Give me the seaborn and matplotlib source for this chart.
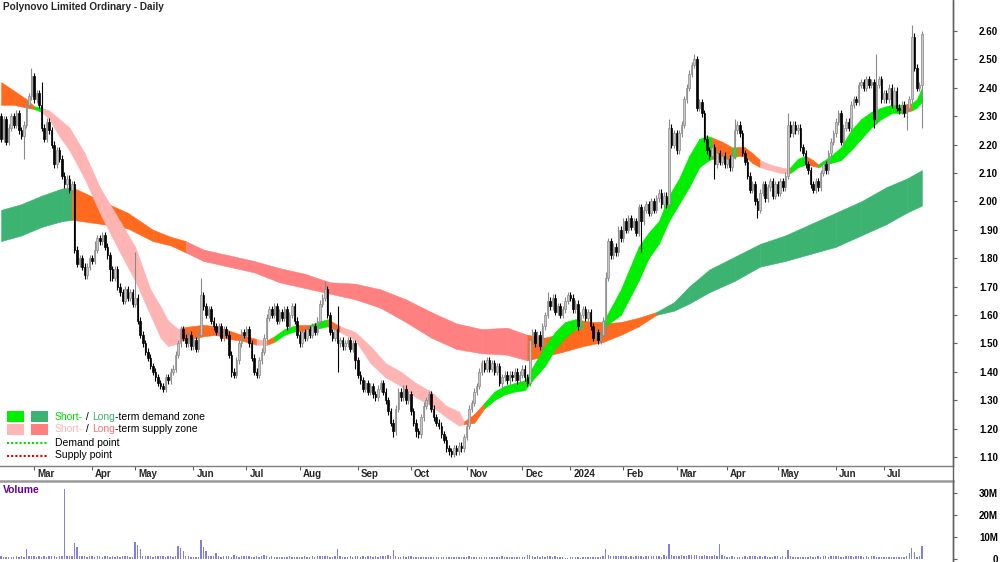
import numpy as np
import pandas as pd
import matplotlib
matplotlib.use("Agg")
import matplotlib.pyplot as plt
import seaborn as sns
from matplotlib.patches import Rectangle
from matplotlib.lines import Line2D
from matplotlib.transforms import ScaledTranslation

# ---- data ----
title = "Polynovo Limited Ordinary - Daily"
first_day, last_day = "2023-02-10", "2024-07-22"
asx_holidays = ["2023-04-07", "2023-04-10", "2023-04-25", "2023-06-12", "2023-12-25",
                "2023-12-26", "2024-01-01", "2024-01-26", "2024-03-29", "2024-04-01",
                "2024-04-25", "2024-06-10"]

# daily closes per month
close_feb23 = [2.22, 2.29, 2.21, 2.26, 2.30, 2.27, 2.31, 2.25, 2.23, 2.27, 2.34, 2.37, 2.44]
close_mar23 = [2.36, 2.38, 2.34, 2.26, 2.22, 2.28, 2.25, 2.20, 2.13, 2.18, 2.15, 2.09, 2.06, 2.08,
               2.04, 2.06, 1.83, 1.78, 1.80, 1.77, 1.74, 1.77, 1.80]
close_apr23 = [1.79, 1.83, 1.87, 1.86, 1.88, 1.84, 1.81, 1.76, 1.73, 1.76, 1.70, 1.68, 1.65, 1.69,
               1.66, 1.68, 1.64]
close_may23 = [1.66, 1.58, 1.53, 1.50, 1.47, 1.45, 1.42, 1.40, 1.38, 1.36, 1.35, 1.34, 1.38, 1.37,
               1.40, 1.41, 1.46, 1.50, 1.55, 1.52, 1.50, 1.53, 1.49]
close_jun23 = [1.51, 1.48, 1.53, 1.67, 1.63, 1.60, 1.62, 1.58, 1.56, 1.54, 1.56, 1.52, 1.55, 1.53,
               1.46, 1.40, 1.39, 1.44, 1.50, 1.54, 1.53]
close_jul23 = [1.55, 1.50, 1.45, 1.40, 1.39, 1.44, 1.47, 1.52, 1.59, 1.62, 1.60, 1.63, 1.58, 1.61,
               1.59, 1.62, 1.56, 1.60, 1.63, 1.58, 1.53]
close_aug23 = [1.50, 1.54, 1.52, 1.55, 1.53, 1.56, 1.54, 1.58, 1.64, 1.66, 1.69, 1.60, 1.54, 1.52,
               1.55, 1.50, 1.51, 1.49, 1.50, 1.51, 1.48, 1.50, 1.44]
close_sep23 = [1.39, 1.37, 1.34, 1.36, 1.33, 1.35, 1.32, 1.31, 1.34, 1.36, 1.33, 1.30, 1.26, 1.22,
               1.19, 1.27, 1.33, 1.31, 1.34, 1.30, 1.32]
close_oct23 = [1.26, 1.22, 1.19, 1.18, 1.24, 1.28, 1.30, 1.32, 1.27, 1.24, 1.22, 1.21, 1.18, 1.16,
               1.13, 1.12, 1.11, 1.13, 1.12, 1.14, 1.13, 1.17]
close_nov23 = [1.21, 1.27, 1.29, 1.33, 1.35, 1.40, 1.43, 1.41, 1.44, 1.41, 1.43, 1.40, 1.42, 1.36,
               1.38, 1.39, 1.37, 1.39, 1.38, 1.40, 1.37, 1.39]
close_dec23 = [1.41, 1.38, 1.36, 1.51, 1.54, 1.50, 1.53, 1.49, 1.56, 1.60, 1.65, 1.63, 1.66, 1.61,
               1.63, 1.60, 1.62, 1.65, 1.67]
close_jan24 = [1.66, 1.62, 1.64, 1.56, 1.60, 1.62, 1.59, 1.61, 1.56, 1.52, 1.54, 1.51, 1.53, 1.58,
               1.73, 1.86, 1.81, 1.84, 1.82, 1.90, 1.87]
close_feb24 = [1.93, 1.90, 1.94, 1.91, 1.93, 1.89, 1.98, 1.93, 1.97, 1.99, 1.96, 2.00, 1.97, 2.01,
               2.03, 1.99, 2.02, 1.99, 2.26, 2.20, 2.24]
close_mar24 = [2.18, 2.24, 2.27, 2.36, 2.40, 2.45, 2.48, 2.50, 2.33, 2.35, 2.31, 2.22, 2.18, 2.16,
               2.19, 2.13, 2.17, 2.14, 2.16, 2.13]
close_apr24 = [2.15, 2.12, 2.16, 2.25, 2.27, 2.24, 2.17, 2.14, 2.09, 2.04, 2.06, 2.00, 1.97, 2.03,
               2.06, 2.01, 2.05, 2.07, 2.02, 2.06]
close_may24 = [2.03, 2.07, 2.05, 2.09, 2.27, 2.24, 2.27, 2.25, 2.26, 2.19, 2.17, 2.13, 2.11, 2.06,
               2.04, 2.07, 2.05, 2.10, 2.13, 2.11, 2.17, 2.21, 2.24]
close_jun24 = [2.28, 2.31, 2.21, 2.26, 2.28, 2.26, 2.34, 2.36, 2.35, 2.41, 2.42, 2.40, 2.43, 2.41,
               2.42, 2.29, 2.41, 2.43, 2.36]
close_jul24 = [2.38, 2.36, 2.40, 2.34, 2.39, 2.33, 2.32, 2.34, 2.31, 2.33, 2.36, 2.58, 2.47, 2.40,
               2.41, 2.59]
first_open = 2.30

# notable wick extremes {session: price}
wick_high = {12: 2.47, 16: 2.42, 37: 1.86, 53: 1.82, 79: 1.73, 128: 1.72, 133: 1.63, 209: 1.52,
             216: 1.68, 239: 1.75, 264: 2.29, 274: 2.52, 290: 2.29, 311: 2.31, 346: 2.52,
             360: 2.62, 364: 2.60}
wick_low = {9: 2.15, 43: 1.72, 79: 1.57, 91: 1.38, 133: 1.40, 140: 1.41, 155: 1.17, 164: 1.17,
            178: 1.10, 198: 1.34, 239: 1.53, 253: 1.82, 282: 2.08, 299: 1.94, 345: 2.26,
            358: 2.25, 364: 2.26}

# daily volume in millions, per month
vol_feb23 = [1.3, 0.9, 0.8, 1.0, 0.8, 1.1, 1.2, 0.9, 1.4, 1.0, 4.5, 1.3, 1.5]
vol_mar23 = [1.2, 1.0, 1.3, 1.1, 1.3, 1.0, 1.4, 1.2, 1.3, 1.1, 1.2, 1.5, 32.0, 1.4, 1.3, 1.5, 7.2,
             5.4, 1.4, 1.3, 1.5, 1.1, 1.2]
vol_apr23 = [1.3, 1.1, 1.4, 1.2, 1.0, 1.3, 1.2, 1.1, 1.3, 1.1, 1.2, 1.0, 1.3, 1.2, 1.5, 1.1, 1.0]
vol_may23 = [7.6, 6.4, 4.4, 1.5, 1.3, 1.4, 1.2, 1.1, 1.3, 1.2, 1.5, 1.2, 1.1, 1.4, 1.3, 1.0, 1.4,
             6.0, 4.8, 3.8, 1.3, 1.2, 1.0]
vol_jun23 = [1.1, 0.9, 0.8, 8.6, 5.6, 3.6, 1.4, 1.2, 1.3, 2.6, 1.3, 1.1, 1.4, 1.2, 1.3, 1.0, 1.6,
             1.2, 1.1, 1.4, 1.3]
vol_jul23 = [1.5, 1.2, 1.1, 0.9, 1.3, 1.1, 1.5, 1.6, 1.3, 1.0, 1.2, 1.1, 0.8, 0.9, 0.8, 1.0, 0.9,
             1.2, 0.9, 0.8, 1.0]
vol_aug23 = [0.8, 0.8, 1.2, 1.0, 0.9, 1.4, 1.1, 1.3, 1.5, 1.2, 1.3, 1.5, 1.1, 1.0, 1.2, 4.6, 1.3,
             1.0, 0.9, 1.1, 1.3, 1.1, 1.4]
vol_sep23 = [1.4, 1.1, 1.3, 1.1, 1.5, 1.2, 1.0, 1.3, 1.1, 1.5, 1.2, 1.3, 1.6, 1.4, 4.0, 1.5, 1.1,
             1.0, 1.3, 0.9, 1.3]
vol_oct23 = [1.5, 1.1, 0.9, 1.0, 0.8, 0.8, 0.9, 0.8, 0.7, 0.9, 0.8, 1.0, 0.8, 0.9, 1.1, 1.0, 0.9,
             1.0, 0.8, 0.9, 0.8, 0.9]
vol_nov23 = [1.0, 1.2, 0.9, 1.1, 0.8, 1.0, 0.8, 0.9, 0.8, 0.9, 0.8, 0.9, 0.8, 1.0, 1.3, 0.9, 0.7,
             0.9, 0.8, 1.0, 1.1, 1.0]
vol_dec23 = [0.8, 1.0, 1.6, 1.8, 1.2, 1.0, 1.3, 0.9, 1.5, 1.1, 1.3, 1.5, 1.0, 1.2, 0.9, 1.1, 0.9,
             0.6, 0.5]
vol_jan24 = [0.7, 0.8, 0.7, 0.8, 0.6, 0.7, 0.8, 0.7, 0.8, 0.9, 0.8, 1.0, 1.1, 1.3, 4.6, 1.7, 1.4,
             1.3, 1.5, 1.2, 1.4]
vol_feb24 = [1.2, 1.4, 1.1, 1.3, 1.0, 1.5, 1.2, 1.3, 1.1, 1.4, 1.3, 1.2, 1.4, 1.2, 1.3, 1.1, 1.6,
             1.5, 6.8, 1.8, 1.4]
vol_mar24 = [1.5, 1.4, 1.8, 1.5, 1.3, 1.7, 1.9, 1.6, 2.0, 1.5, 1.4, 1.7, 1.5, 1.3, 1.4, 1.6, 1.2,
             7.0, 1.8, 1.3]
vol_apr24 = [1.1, 1.0, 1.2, 1.0, 0.9, 1.1, 1.0, 1.3, 1.1, 1.3, 1.2, 1.4, 1.1, 1.3, 1.0, 1.2, 1.1,
             1.1, 1.0, 1.2]
vol_may24 = [1.2, 1.0, 1.3, 1.1, 4.2, 1.4, 1.1, 1.0, 0.9, 1.1, 0.9, 1.0, 1.0, 1.2, 0.9, 1.1, 1.3,
             1.0, 1.4, 1.2, 1.1, 1.3, 1.3]
vol_jun24 = [1.3, 1.2, 1.1, 1.0, 1.4, 1.2, 1.3, 1.1, 1.4, 1.2, 1.3, 1.1, 1.3, 1.0, 1.2, 1.5, 1.1,
             1.0, 0.9]
vol_jul24 = [1.0, 0.8, 0.9, 0.8, 0.9, 1.0, 0.8, 1.1, 1.0, 1.2, 2.6, 5.2, 3.0, 1.1, 1.3, 6.0]

# short-term zone: knot session, upper, lower, zone of the following stretch
short_at = [0, 5, 10, 13, 16, 19, 23, 27, 33, 39, 47, 53, 59, 63, 66, 70, 71, 75, 80, 85, 90, 95,
            101, 105, 108, 112, 117, 122, 129, 134, 140, 146, 152, 158, 164, 170, 176, 181, 183,
            187, 191, 195, 199, 203, 207, 211, 215, 219, 223, 227, 230, 234, 238, 245, 252, 256,
            260, 264, 268, 272, 276, 279, 281, 285, 289, 291, 294, 297, 300, 304, 308, 311, 312,
            315, 318, 321, 323, 328, 332, 336, 340, 344, 348, 352, 356, 360, 362, 364]
short_top = [2.42, 2.39, 2.36, 2.335, 2.33, 2.32, 2.29, 2.26, 2.17, 2.05, 1.93, 1.84, 1.69, 1.63,
             1.58, 1.55, 1.555, 1.56, 1.565, 1.56, 1.545, 1.53, 1.515, 1.51, 1.525, 1.55, 1.565,
             1.565, 1.585, 1.56, 1.54, 1.49, 1.43, 1.40, 1.36, 1.33, 1.28, 1.26, 1.225, 1.25, 1.29,
             1.33, 1.35, 1.36, 1.37, 1.43, 1.49, 1.54, 1.575, 1.585, 1.58, 1.575, 1.575, 1.69,
             1.84, 1.89, 1.93, 2.02, 2.08, 2.16, 2.22, 2.23, 2.225, 2.21, 2.19, 2.19, 2.19, 2.17,
             2.145, 2.13, 2.12, 2.115, 2.12, 2.15, 2.16, 2.145, 2.13, 2.16, 2.19, 2.25, 2.29,
             2.315, 2.33, 2.34, 2.34, 2.345, 2.36, 2.40]
short_bot = [2.34, 2.34, 2.33, 2.325, 2.315, 2.29, 2.23, 2.18, 2.08, 1.96, 1.82, 1.72, 1.60, 1.52,
             1.49, 1.50, 1.51, 1.515, 1.525, 1.53, 1.515, 1.51, 1.495, 1.495, 1.505, 1.53, 1.545,
             1.545, 1.56, 1.54, 1.51, 1.43, 1.38, 1.35, 1.31, 1.28, 1.24, 1.21, 1.215, 1.22, 1.27,
             1.30, 1.32, 1.33, 1.335, 1.38, 1.42, 1.48, 1.52, 1.55, 1.555, 1.55, 1.555, 1.60,
             1.72, 1.80, 1.85, 1.93, 1.99, 2.05, 2.12, 2.14, 2.15, 2.15, 2.15, 2.16, 2.16, 2.135,
             2.12, 2.11, 2.10, 2.10, 2.10, 2.12, 2.13, 2.125, 2.12, 2.135, 2.145, 2.18, 2.22,
             2.26, 2.29, 2.31, 2.31, 2.32, 2.33, 2.35]
short_zone = ["T", "T", "T", "SD", "SS", "SS", "SS", "SS", "SS", "SS", "SS", "SS", "SS", "SS",
              "SS", "SS", "T", "T", "T", "T", "T", "T", "SS", "T", "SD", "SD", "T", "SD", "T",
              "SS", "SS", "SS", "SS", "SS", "SS", "SS", "SS", "SS", "T", "T", "SD", "SD", "SD",
              "SD", "SD", "SD", "SD", "SD", "SD", "SD", "T", "T", "SD", "SD", "SD", "SD", "SD",
              "SD", "SD", "SD", "SD", "SD", "T", "T", "SD", "T", "T", "T", "SS", "SS", "SS", "T",
              "SD", "SD", "T", "T", "SD", "SD", "SD", "SD", "SD", "SD", "SD", "SD", "T", "SD",
              "SD", "SD"]

# long-term zone
long_at = [0, 8, 16, 24, 28, 40, 50, 60, 67, 73, 80, 90, 100, 110, 120, 130, 140, 150, 160, 170,
           180, 190, 200, 208, 215, 222, 230, 238, 245, 252, 259, 266, 272, 280, 290, 300, 310,
           320, 330, 340, 350, 358, 364]
long_top = [1.97, 1.99, 2.02, 2.045, 2.05, 2.00, 1.96, 1.90, 1.875, 1.86, 1.83, 1.81, 1.79, 1.765,
            1.745, 1.715, 1.71, 1.69, 1.655, 1.61, 1.57, 1.55, 1.555, 1.53, 1.52, 1.535, 1.555,
            1.57, 1.575, 1.59, 1.61, 1.645, 1.70, 1.76, 1.805, 1.85, 1.88, 1.92, 1.96, 2.00, 2.05,
            2.08, 2.11]
long_bot = [1.86, 1.88, 1.91, 1.93, 1.935, 1.92, 1.905, 1.86, 1.845, 1.82, 1.79, 1.77, 1.75, 1.715,
            1.695, 1.675, 1.655, 1.625, 1.575, 1.52, 1.48, 1.465, 1.46, 1.44, 1.455, 1.47, 1.49,
            1.505, 1.53, 1.56, 1.60, 1.615, 1.64, 1.68, 1.72, 1.77, 1.79, 1.815, 1.84, 1.88, 1.92,
            1.96, 1.985]
long_zone = ["LD", "LD", "LD", "LD", "T", "T", "T", "T", "T", "LS", "LS", "LS", "LS", "LS", "LS",
             "LS", "LS", "LS", "LS", "LS", "LS", "LS", "LS", "T", "T", "T", "T", "T", "T", "T",
             "LD", "LD", "LD", "LD", "LD", "LD", "LD", "LD", "LD", "LD", "LD", "LD", "LD"]

price_ticks = [1.10, 1.20, 1.30, 1.40, 1.50, 1.60, 1.70, 1.80, 1.90, 2.00, 2.10, 2.20, 2.30,
               2.40, 2.50, 2.60]
volume_ticks = [0, 10, 20, 30]
volume_tick_labels = ["0", "10M", "20M", "30M"]

zone_colors = {"SD": "#00ee00", "LD": "#3cb371", "SS": "#ffb4b4", "LS": "#ff8080", "T": "#ff6a1f"}

# ---- assemble ----
closes = sum([close_feb23, close_mar23, close_apr23, close_may23, close_jun23, close_jul23,
              close_aug23, close_sep23, close_oct23, close_nov23, close_dec23, close_jan24,
              close_feb24, close_mar24, close_apr24, close_may24, close_jun24, close_jul24], [])
volumes = sum([vol_feb23, vol_mar23, vol_apr23, vol_may23, vol_jun23, vol_jul23, vol_aug23,
               vol_sep23, vol_oct23, vol_nov23, vol_dec23, vol_jan24, vol_feb24, vol_mar24,
               vol_apr24, vol_may24, vol_jun24, vol_jul24], [])

dates = pd.bdate_range(first_day, last_day)
dates = dates[~dates.isin(pd.to_datetime(asx_holidays))]
if len(closes) != len(dates) or len(volumes) != len(dates):
    raise ValueError(f"length mismatch {len(closes)} {len(volumes)} {len(dates)}")

df = pd.DataFrame({"date": dates, "close": closes, "volume": volumes})
df["session"] = np.arange(len(df))
df["open"] = [first_open] + closes[:-1]
df["body_lo"] = df[["open", "close"]].min(axis=1)
df["body_hi"] = df[["open", "close"]].max(axis=1)
df["high"] = df["body_hi"] + 0.012
df["low"] = df["body_lo"] - 0.012
for s, v in wick_high.items():
    df.loc[s, "high"] = max(v, df.loc[s, "body_hi"])
for s, v in wick_low.items():
    df.loc[s, "low"] = min(v, df.loc[s, "body_lo"])
df["up"] = df["close"] >= df["open"]

# month ticks: first session of each month (skip the partial first month)
first_of_month = df.groupby(df["date"].dt.to_period("M"))["session"].min().iloc[1:]
month_labels = [str(p.year) if p.month == 1 else p.strftime("%b") for p in first_of_month.index]

# ---- figure ----
W, H = 1000, 562
sns.set_theme(style="white")
plt.rcParams["font.family"] = ["Liberation Sans", "DejaVu Sans"]

fig = plt.figure(figsize=(W / 100, H / 100), dpi=100)
fig.patch.set_facecolor("white")
ax = fig.add_axes([0, 1 - 466 / H, 953 / W, 466 / H])
axv = fig.add_axes([0, 0, 953 / W, 81 / H])
for a in (ax, axv):
    a.set_facecolor("white")


def draw_band(at, top, bot, zone, z):
    for k in range(len(at) - 1):
        c = zone_colors[zone[k]]
        ax.fill_between(at[k:k + 2], top[k:k + 2], bot[k:k + 2], facecolor=c, edgecolor=c,
                        lw=0.4, zorder=z)


draw_band(long_at, long_top, long_bot, long_zone, 1)
draw_band(short_at, short_top, short_bot, short_zone, 2)

# candles
up = df[df["up"]]
dn = df[~df["up"]]
ax.vlines(up["session"], up["low"], up["high"], color="#8a8a8a", lw=0.8, zorder=3)
ax.vlines(dn["session"], dn["low"], dn["high"], color="black", lw=0.8, zorder=3)
ax.bar(up["session"], (up["body_hi"] - up["body_lo"]).clip(lower=0.004), bottom=up["body_lo"],
       width=0.6, color="#c6c6c6", edgecolor="#8a8a8a", lw=0.5, zorder=4)
ax.bar(dn["session"], (dn["body_hi"] - dn["body_lo"]).clip(lower=0.004), bottom=dn["body_lo"],
       width=0.6, color="black", edgecolor="black", lw=0.5, zorder=4)

# volume
sns.barplot(data=df, x="session", y="volume", native_scale=True, color="#8080e0",
            saturation=1, width=0.55, errorbar=None, linewidth=0, edgecolor="none", ax=axv)
axv.set_xlabel("")
axv.set_ylabel("")

xlim = (-0.44, 376.3)
ax.set_xlim(xlim)
axv.set_xlim(xlim)
ax.set_ylim(1.068, 2.709)
axv.set_ylim(-1.36, 35.45)

# axes styling
for a in (ax, axv):
    a.grid(False)
    a.spines["left"].set_visible(False)
    a.spines["right"].set_color("#606060")
    a.spines["right"].set_linewidth(1.0)
    a.yaxis.tick_right()
ax.spines["top"].set_visible(False)
ax.spines["bottom"].set_color("#7f7f7f")
ax.spines["bottom"].set_linewidth(1.0)
axv.spines["bottom"].set_visible(False)
axv.spines["top"].set_color("#9a9a9a")
axv.spines["top"].set_linewidth(1.8)

ax.set_yticks(price_ticks)
ax.set_yticklabels([f"{v:.2f}" for v in price_ticks])
axv.set_yticks(volume_ticks)
axv.set_yticklabels(volume_tick_labels)
for a in (ax, axv):
    a.tick_params(axis="y", which="major", direction="out", length=3, width=0.8,
                  color="#606060", pad=29.4, labelsize=7, left=False, right=True)
    plt.setp(a.get_yticklabels(), ha="right", fontweight="bold", color="black")

ax.set_xticks(first_of_month.values)
ax.set_xticklabels(month_labels)
ax.tick_params(axis="x", direction="out", length=3, width=0.8, color="#606060", pad=-1.0,
               labelsize=7, bottom=True)
shift = ScaledTranslation(3 / 100, 0, fig.dpi_scale_trans)
for lab in ax.get_xticklabels():
    lab.set_ha("left")
    lab.set_fontweight("bold")
    lab.set_transform(lab.get_transform() + shift)
axv.set_xticks([])

# right border through the gap between panels
fig.add_artist(Line2D([953 / W, 953 / W], [0, 1], transform=fig.transFigure,
                      color="#606060", lw=1.0))

# titles
fig.text(3 / W, 1 - 7 / H, title, fontsize=7.2, fontweight="bold", va="center", ha="left")
fig.text(3 / W, 1 - 490 / H, "Volume", fontsize=7.5, fontweight="bold", color="#660099",
         va="center", ha="left")

# legend
renderer = fig.canvas.get_renderer()


def text_run(x, y, parts):
    for s, c in parts:
        t = fig.text(x / W, 1 - y / H, s, color=c, fontsize=7.5, va="center", ha="left")
        x += t.get_window_extent(renderer).width


def square(x, y, c):
    fig.add_artist(Rectangle((x / W, 1 - (y + 11) / H), 17 / W, 11 / H,
                             transform=fig.transFigure, facecolor=c, edgecolor="none"))


square(7, 411, "#00ee00")
square(31, 411, "#3cb371")
square(7, 423.5, "#ffb6b6")
square(31, 423.5, "#ff7f7f")
text_run(55, 416.5, [("Short-", "#00dd00"), (" / ", "black"), ("Long", "#3cb371"),
                     ("-term demand zone", "black")])
text_run(55, 429.5, [("Short-", "#ffb6b6"), (" / ", "black"), ("Long", "#ff7070"),
                     ("-term supply zone", "black")])
for y, c, s in [(443, "#00dd00", "Demand point"), (455.5, "#ee0000", "Supply point")]:
    fig.add_artist(Line2D([7 / W, 47 / W], [1 - y / H] * 2, transform=fig.transFigure,
                          color=c, lw=1.5, linestyle=(0, (1, 1))))
    text_run(55, y - 0.5, [(s, "black")])

fig.savefig("out.png", dpi=100)
